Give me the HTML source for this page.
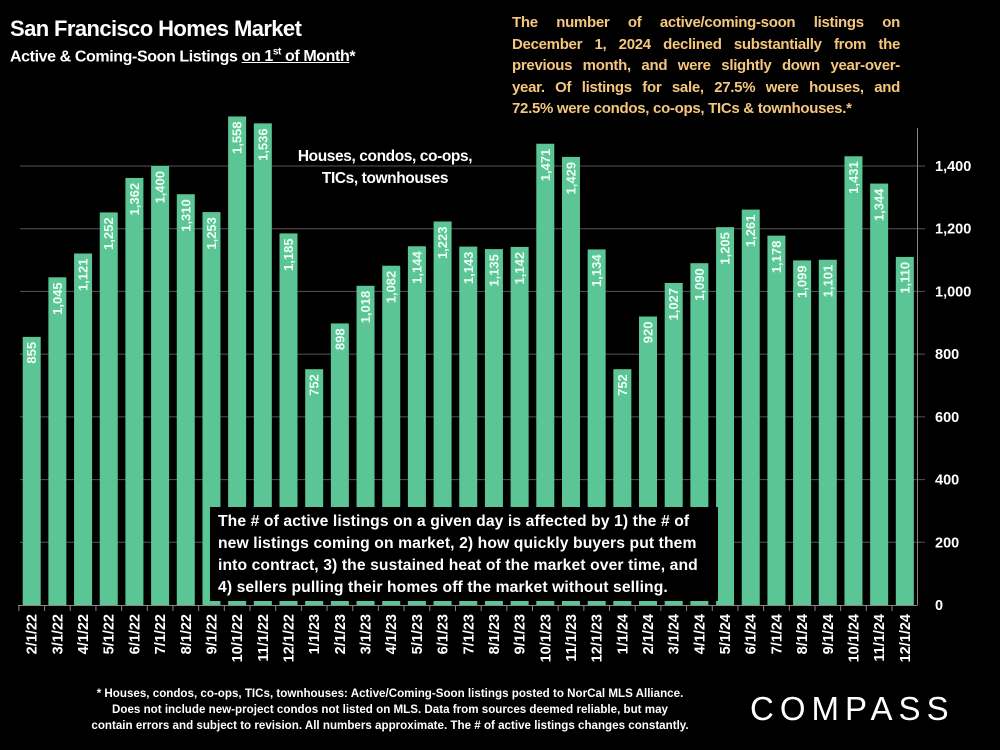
<!DOCTYPE html>
<html><head><meta charset="utf-8"><style>
body{margin:0;background:#000;width:1000px;height:750px;overflow:hidden;font-family:"Liberation Sans",sans-serif;color:#fff;position:relative}
.t{position:absolute}
.j{display:block;text-align:justify;text-align-last:justify;white-space:nowrap}
</style></head><body>
<div class="t" style="left:10px;top:16px;font-size:22px;font-weight:bold;letter-spacing:-0.6px">San Francisco Homes Market</div>
<div class="t" style="left:10px;top:47px;font-size:16px;font-weight:bold;letter-spacing:-0.4px">Active &amp; Coming-Soon Listings <u>on 1<sup style="font-size:10px">st</sup> of Month</u>*</div>
<div class="t" style="left:512px;top:12px;width:388px;font-size:15px;font-weight:bold;color:#f5c77e;line-height:21.5px;letter-spacing:-0.3px">
<span class="j">The number of active/coming-soon listings on</span>
<span class="j">December 1, 2024 declined substantially from the</span>
<span class="j">previous month, and were slightly down year-over-</span>
<span class="j">year. Of listings for sale, 27.5% were houses, and</span>
<span style="display:block;white-space:nowrap">72.5% were condos, co-ops, TICs &amp; townhouses.*</span></div>
<svg id="chart" class="t" style="left:0;top:0" width="1000" height="750"></svg>
<div class="t" style="left:290px;top:146px;width:190px;text-align:center;font-size:15.5px;font-weight:bold;line-height:22px;letter-spacing:-0.4px">Houses, condos, co-ops,<br>TICs, townhouses</div>
<div class="t" style="left:210px;top:507px;width:500px;height:90px;background:#000;padding:4px 0 0 8px;font-size:15.7px;font-weight:bold;line-height:22px;letter-spacing:0.1px;white-space:nowrap">The # of active listings on a given day is affected by 1) the # of<br>new listings coming on market, 2) how quickly buyers put them<br>into contract, 3) the sustained heat of the market over time, and<br>4) sellers pulling their homes off the market without selling.</div>
<div class="t" style="left:50px;top:686px;width:680px;font-size:11.6px;font-weight:bold;line-height:16px;text-align:center;letter-spacing:0px">* Houses, condos, co-ops, TICs, townhouses: Active/Coming-Soon listings posted to NorCal MLS Alliance.<br>Does not include new-project condos not listed on MLS. Data from sources deemed reliable, but may<br>contain errors and subject to revision. All numbers approximate. The # of active listings changes constantly.</div>
<div class="t" style="left:750px;top:690px;font-size:33px;letter-spacing:6px;font-weight:normal">COMPASS</div>
<script>
const categories=["2/1/22","3/1/22","4/1/22","5/1/22","6/1/22","7/1/22","8/1/22","9/1/22","10/1/22","11/1/22","12/1/22","1/1/23","2/1/23","3/1/23","4/1/23","5/1/23","6/1/23","7/1/23","8/1/23","9/1/23","10/1/23","11/1/23","12/1/23","1/1/24","2/1/24","3/1/24","4/1/24","5/1/24","6/1/24","7/1/24","8/1/24","9/1/24","10/1/24","11/1/24","12/1/24"];
const values=[855,1045,1121,1252,1362,1400,1310,1253,1558,1536,1185,752,898,1018,1082,1144,1223,1143,1135,1142,1471,1429,1134,752,920,1027,1090,1205,1261,1178,1099,1101,1431,1344,1110];
const ticks=[0,200,400,600,800,1000,1200,1400];
const svg=document.getElementById('chart');const NS='http://www.w3.org/2000/svg';
const y=v=>605-v*(605-166)/1400;
const x=i=>22.7+i*25.68;
function mk(t,a){const e=document.createElementNS(NS,t);for(const k in a)e.setAttribute(k,a[k]);svg.appendChild(e);return e;}
ticks.forEach(t=>{
 if(t>0){const g=mk('line',{x1:20,x2:925,y1:y(t),y2:y(t),stroke:'#555','stroke-width':1});
 
 }
 const l=mk('text',{x:935,y:y(t)+5,fill:'#fff','font-size':14.5,'font-weight':'bold'});l.textContent=t.toLocaleString('en-US');
 
 
});
const ax=mk('line',{x1:917.5,x2:917.5,y1:128,y2:605,stroke:'#888','stroke-width':1});


const bx=mk('line',{x1:18,x2:917.5,y1:605.5,y2:605.5,stroke:'#888','stroke-width':1});


values.forEach((v,i)=>{
 const r=mk('rect',{x:x(i),y:y(v),width:18,height:605-y(v),fill:'#5cc595'});
 
 
 const cx=x(i)+9+4.5;
 const t=mk('text',{x:cx,y:y(v)+5,fill:'#eafff4','font-size':13,'font-weight':'bold','text-anchor':'end',transform:`rotate(-90 ${cx} ${y(v)+5})`});
 t.textContent=v.toLocaleString('en-US');
 
 
 const lx=x(i)+9+5;
 const c=mk('text',{x:lx,y:614,fill:'#fff','font-size':14.5,'font-weight':'bold','text-anchor':'end',transform:`rotate(-90 ${lx} 614)`});
 c.textContent=categories[i];
 
 
 const tk=mk('line',{x1:x(i)-3.8,x2:x(i)-3.8,y1:605,y2:611,stroke:'#888'});
 
 
});
</script>
</body></html>
